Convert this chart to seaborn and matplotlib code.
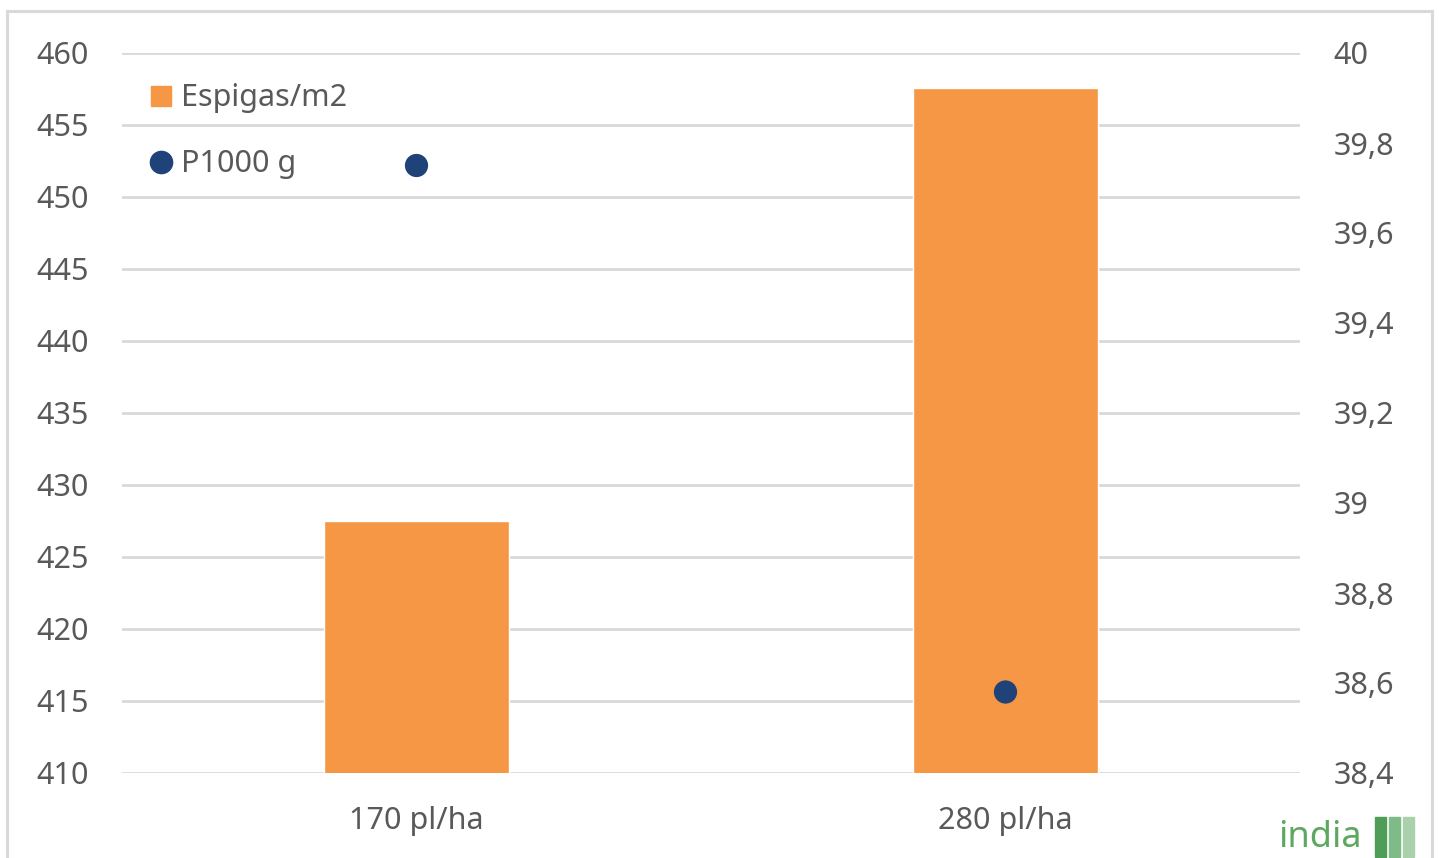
import matplotlib
matplotlib.use("Agg")
import matplotlib.pyplot as plt
from matplotlib.lines import Line2D
from matplotlib.patches import Rectangle
import seaborn as sns
import pandas as pd

categories = ["170 pl/ha", "280 pl/ha"]
espigas = [427.5, 457.6]
p1000 = [39.75, 38.58]
left_ticks = [410, 415, 420, 425, 430, 435, 440, 445, 450, 455, 460]
right_ticks = [38.4, 38.6, 38.8, 39.0, 39.2, 39.4, 39.6, 39.8, 40.0]
right_labels = ["38,4", "38,6", "38,8", "39", "39,2", "39,4", "39,6", "39,8", "40"]

orange = "#F59744"
navy = "#1F4378"
grey_txt = "#595959"
grid_col = "#D9D9D9"

sns.set_theme(style="white")
plt.rcParams["font.family"] = ["Noto Sans", "DejaVu Sans"]

df = pd.DataFrame({"cat": categories, "espigas": espigas, "p1000": p1000})

W, H = 1439, 858
fig = plt.figure(figsize=(W / 100, H / 100), dpi=100)
ax = fig.add_axes([122 / W, 1 - 773 / H, (1300 - 122) / W, (773 - 53) / H])

sns.barplot(data=df, x="cat", y="espigas", color=orange, saturation=1,
            width=0.314, ax=ax, zorder=2)
ax.set_ylim(410, 460)
ax.set_xlim(-0.5, 1.5)
ax.set_yticks(left_ticks)
ax.yaxis.grid(True, color=grid_col, linewidth=2)
ax.set_axisbelow(True)
for s in ax.spines.values():
    s.set_visible(False)
ax.set_xlabel("")
ax.set_ylabel("")
ax.tick_params(axis="both", length=0, labelsize=22, colors=grey_txt)
ax.tick_params(axis="y", pad=24)
ax.tick_params(axis="x", pad=24)

ax2 = ax.twinx()
sns.scatterplot(data=df, x="cat", y="p1000", color=navy, s=280,
                edgecolor="none", ax=ax2, zorder=3)
ax2.set_ylim(38.4, 40.0)
ax2.set_yticks(right_ticks)
ax2.set_yticklabels(right_labels)
ax2.set_ylabel("")
for s in ax2.spines.values():
    s.set_visible(False)
ax2.tick_params(axis="y", length=0, labelsize=22, colors=grey_txt, pad=24)
ax.set_xlim(-0.5, 1.5)

handles = [
    Line2D([], [], marker="s", linestyle="none", color=orange, markersize=15),
    Line2D([], [], marker="o", linestyle="none", color=navy, markersize=16),
]
leg = ax2.legend(handles, ["Espigas/m2", "P1000 g"], loc="upper left",
                 bbox_to_anchor=(0.001, 0.996), frameon=False, fontsize=22,
                 handlelength=0.7, handletextpad=0.3, labelspacing=1.18)
for t in leg.get_texts():
    t.set_color(grey_txt)

# frame around the chart
fig.patches.append(Rectangle((7 / W, -0.05), (1432 - 7) / W, 1 - 11 / H + 0.05,
                             transform=fig.transFigure, fill=False,
                             edgecolor=grid_col, linewidth=2.2))

# logo
fig.text(1278 / W, 1 - 856 / H, "india", fontsize=26, color="#5BA85E",
         ha="left", va="bottom")
for x0, c in [(1375, "#4E9E58"), (1389, "#7FBB86"), (1403, "#A9D2AC")]:
    fig.patches.append(Rectangle((x0 / W, 1 - 857 / H), 11 / W, 40 / H,
                                 transform=fig.transFigure, color=c))

fig.savefig("out.png", dpi=100)
